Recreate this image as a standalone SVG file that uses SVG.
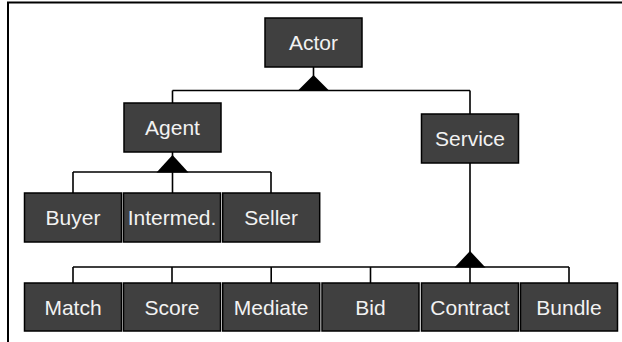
<svg xmlns="http://www.w3.org/2000/svg" width="622" height="342" viewBox="0 0 622 342">
<style>
.box{fill:#404040;stroke:#000;stroke-width:1.5}
.lbl{font-family:"Liberation Sans",Arial,sans-serif;font-size:21px;fill:#f2f2f2;text-anchor:middle}
.ln{fill:none;stroke:#000;stroke-width:1.6}
.tri{fill:#000;stroke:none}
</style>
<rect width="622" height="342" fill="#fff"/>
<path d="M8,342 V2.5 H622" fill="none" stroke="#000" stroke-width="2"/>
<g id="connectors">
<path class="ln" d="M313.5,67 V80 M172.5,90.5 H470 M172.5,90.5 V103 M470,90.5 V114"/>
<polygon class="tri" points="313.5,75 297.5,91 329.5,91"/>
<path class="ln" d="M172.5,152 V160 M73,172 H271 M73,172 V193 M172.5,172 V193 M271,172 V193"/>
<polygon class="tri" points="172.5,155 156.5,172.5 188.5,172.5"/>
<path class="ln" d="M470,163 V256 M73,267 H569 M73,267 V283 M172,267 V283 M271.2,267 V283 M370.5,267 V283 M470,267 V283 M569,267 V283"/>
<polygon class="tri" points="470,251 454.5,267.5 485.5,267.5"/>
</g>
<g id="actor"><rect class="box" x="265" y="18" width="97" height="49"/><text class="lbl" x="313.5" y="50">Actor</text></g>
<g id="agent"><rect class="box" x="124" y="103" width="97" height="49"/><text class="lbl" x="172.5" y="135">Agent</text></g>
<g id="service"><rect class="box" x="421.5" y="114" width="97" height="49"/><text class="lbl" x="470" y="146">Service</text></g>
<g id="buyer"><rect class="box" x="24.5" y="193" width="97" height="49"/><text class="lbl" x="73" y="225">Buyer</text></g>
<g id="intermed"><rect class="box" x="123.5" y="193" width="97" height="49"/><text class="lbl" x="172" y="225">Intermed.</text></g>
<g id="seller"><rect class="box" x="222.7" y="193" width="97" height="49"/><text class="lbl" x="271.2" y="225">Seller</text></g>
<g id="match"><rect class="box" x="24.5" y="283" width="97" height="48"/><text class="lbl" x="73" y="314.5">Match</text></g>
<g id="score"><rect class="box" x="123.5" y="283" width="97" height="48"/><text class="lbl" x="172" y="314.5">Score</text></g>
<g id="mediate"><rect class="box" x="222.7" y="283" width="97" height="48"/><text class="lbl" x="271.2" y="314.5">Mediate</text></g>
<g id="bid"><rect class="box" x="322" y="283" width="97" height="48"/><text class="lbl" x="370.5" y="314.5">Bid</text></g>
<g id="contract"><rect class="box" x="421.5" y="283" width="97" height="48"/><text class="lbl" x="470" y="314.5">Contract</text></g>
<g id="bundle"><rect class="box" x="520.5" y="283" width="97" height="48"/><text class="lbl" x="569" y="314.5">Bundle</text></g>
</svg>
